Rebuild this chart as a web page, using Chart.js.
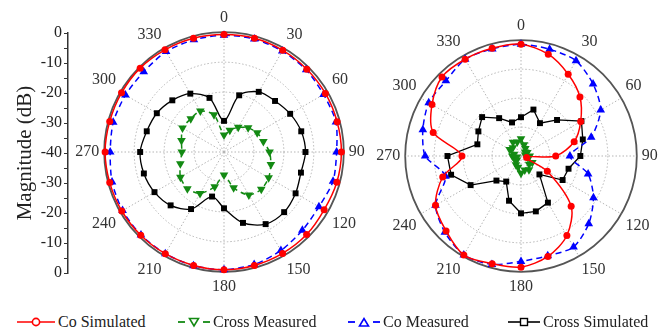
<!DOCTYPE html>
<html>
<head>
<meta charset="utf-8">
<script src="https://cdn.jsdelivr.net/npm/chart.js@4/dist/chart.umd.min.js"></script>
<style>
  html, body { margin: 0; padding: 0; background: #fff; overflow: hidden; }
  #wrap { position: relative; width: 667px; height: 333px; font-family: 'Liberation Serif', 'Times New Roman', serif; }
  canvas { position: absolute; }
  #axis { left: 0; top: 0; }
  #left { left: 49px; top: 8px; }
  #right { left: 346px; top: 16px; }
  .lg { position: absolute; top: 311px; height: 22px; display: flex; align-items: center; font-size: 16px; color: #222; white-space: nowrap; }
  .lg svg { margin-right: 2px; }
</style>
</head>
<body>
<div id="wrap">
  <canvas id="axis" width="80" height="300"></canvas>
  <canvas id="left" width="350" height="289"></canvas>
  <canvas id="right" width="350" height="281"></canvas>

  <div class="lg" style="left:16px">
    <svg width="40" height="12"><line x1="1" y1="6" x2="39" y2="6" stroke="#f00" stroke-width="1.6"/><circle cx="20" cy="6" r="3.6" fill="#fff" stroke="#f00" stroke-width="1.6"/></svg>Co Simulated
  </div>
  <div class="lg" style="left:177px">
    <svg width="34" height="12"><line x1="1" y1="6" x2="8" y2="6" stroke="#138a13" stroke-width="1.8"/><line x1="26" y1="6" x2="33" y2="6" stroke="#138a13" stroke-width="1.8"/><polygon points="12.5,2.5 21.5,2.5 17,10" fill="#fff" stroke="#138a13" stroke-width="1.6"/></svg>Cross Measured
  </div>
  <div class="lg" style="left:347px">
    <svg width="34" height="12"><line x1="1" y1="6" x2="8" y2="6" stroke="#00f" stroke-width="1.8"/><line x1="26" y1="6" x2="33" y2="6" stroke="#00f" stroke-width="1.8"/><polygon points="12.5,10 21.5,10 17,2.5" fill="#fff" stroke="#00f" stroke-width="1.6"/></svg>Co Measured
  </div>
  <div class="lg" style="left:507px">
    <svg width="34" height="12"><line x1="1" y1="6" x2="33" y2="6" stroke="#000" stroke-width="1.6"/><rect x="13.5" y="2.5" width="7" height="7" fill="#fff" stroke="#000" stroke-width="1.4"/></svg>Cross Simulated
  </div>
</div>

<script>
// angles, 15 degree steps, clockwise from top
const angles = ['0','15','30','45','60','75','90','105','120','135','150','165',
                '180','195','210','225','240','255','270','285','300','315','330','345'];

// left pattern (dB)
const leftCoSim = [-0.8, -0.7, -0.8, -0.9, -0.9, -0.9, -0.8, -1.0, -1.4, -1.0, -0.9, -0.8,
                   -0.7, -0.8, -0.8, -0.7, -0.6, -0.5, -0.3, -0.5, -0.5, -0.4, -0.6, -0.7];
const leftCrossMeas = [-34.3, -32.5, -30.5, -28.6, -27.2, -26.4, -24.8, -23.8, -22.8, -22.4, -23.4, -27.6,
                       -32.3, -28, -24, -22.7, -23.2, -24.9, -25.9, -25.3, -24, -24.3, -24.2, -27.1];
const leftCoMeas = [-1.0, -0.9, -1.1, -1.2, -1.6, -1.3, -2.4, -2.3, -3.4, -3.0, -2.0, -1.1,
                    -0.7, -0.7, -0.8, -0.8, -0.9, -1.3, -2.0, -1.7, -2.0, -2.1, -1.3, -1.2];
const leftCrossSim = [-29.6, -20.4, -16.8, -15.9, -14.5, -13.3, -12.8, -13.4, -12.4, -11.6, -12.2, -15.5,
                      -21.2, -24.6, -18, -14.8, -13.2, -12.3, -12, -13.3, -14.1, -15.6, -17.5, -21.3];

// right pattern (dB)
const rightCoSim = [-1.4, -3.6, -7.4, -11.2, -16.2, -21, -28, -38, -29.5, -15.5, -8.3, -4.1,
                    -1.6, -1.5, -0.5, -3.4, -5.9, -12, -19.6, -8.6, -4.5, -1.4, -1.4, -1.5];
const rightCrossMeas = [-34, -36, -37, -38, -37.5, -38.5, -37, -37.5, -35.5, -36, -34.5, -35,
                        -34, -36, -36.5, -38, -37.5, -38.5, -37, -37.5, -35.5, -36, -34.5, -35];
const rightCoMeas = [-1.4, -1.8, -2.0, -4.8, -8.2, -14.9, -23.1, -16, -11.1, -6.9, -3.7, -4.3,
                     -3.6, -1.2, -0.5, -2.8, -5.9, -13, -6.9, -4.9, -3.2, -3.3, -1.4, -1.7];
const rightCrossSim = [-26.6, -23.4, -26.9, -22.4, -15.9, -17.9, -19.5, -23, -23.4, -31, -21.4, -20.2,
                       -20.2, -24, -29.8, -28, -19.9, -15, -14.6, -24.4, -23, -21, -24.9, -28];

// magnitude axis ticks
const magMin = -40, magMax = 40, magStep = 5;

const serif = "'Liberation Serif', 'Times New Roman', serif";
const RED = '#ff0000', GREEN = '#138a13', BLUE = '#0000ff', BLACK = '#000000';

function makeSets(coSim, crossMeas, coMeas, crossSim, smooth) {
    return [
        {
            label: 'Co Simulated', data: coSim,
            borderColor: RED, backgroundColor: RED, borderWidth: 1.5,
            pointStyle: 'circle', pointRadius: 3.5, pointBorderWidth: 0,
            pointBackgroundColor: RED, tension: 0.3, fill: false
        },
        {
            label: 'Cross Measured', data: crossMeas,
            borderColor: GREEN, backgroundColor: GREEN, borderWidth: 1.5, borderDash: [5, 4],
            pointStyle: 'triangle', pointRotation: 180, pointRadius: 5, pointBorderWidth: 0,
            pointBackgroundColor: GREEN, tension: smooth ? 0.25 : 0, fill: false
        },
        {
            label: 'Co Measured', data: coMeas,
            borderColor: BLUE, backgroundColor: BLUE, borderWidth: 1.5, borderDash: [6, 4],
            pointStyle: 'triangle', pointRadius: 5, pointBorderWidth: 0,
            pointBackgroundColor: BLUE, tension: 0.25, fill: false
        },
        {
            label: 'Cross Simulated', data: crossSim,
            borderColor: BLACK, backgroundColor: BLACK, borderWidth: 1.3,
            pointStyle: 'rect', pointRadius: 4.2, pointBorderWidth: 0,
            pointBackgroundColor: BLACK, tension: smooth ? 0.3 : 0, fill: false
        }
    ];
}

function polarOptions() {
    return {
        responsive: false,
        animation: false,
        events: [],
        layout: { padding: 0 },
        plugins: { legend: { display: false }, tooltip: { enabled: false } },
        elements: { line: { borderCapStyle: 'butt' } },
        scales: {
            r: {
                min: -40, max: 0,
                ticks: { display: false, stepSize: 10 },
                grid: {
                    circular: true,
                    color: c => c.tick.value === 0 ? '#555' : '#b5b5b5',
                    lineWidth: c => c.tick.value === 0 ? 1.8 : 1
                },
                border: { dash: c => c.tick.value === 0 ? [] : [1.5, 2] },
                angleLines: {
                    color: c => c.index % 2 ? 'rgba(0,0,0,0)' : '#b5b5b5',
                    lineWidth: c => c.index % 2 ? 0 : 1,
                    borderDash: [1.5, 2]
                },
                pointLabels: {
                    font: { family: serif, size: 16 },
                    color: '#333',
                    padding: 5,
                    callback: (l, i) => i % 2 ? '' : l
                }
            }
        }
    };
}

new Chart(document.getElementById('left'), {
    type: 'radar',
    data: { labels: angles, datasets: makeSets(leftCoSim, leftCrossMeas, leftCoMeas, leftCrossSim, true) },
    options: polarOptions()
});

new Chart(document.getElementById('right'), {
    type: 'radar',
    data: { labels: angles, datasets: makeSets(rightCoSim, rightCrossMeas, rightCoMeas, rightCrossSim, false) },
    options: polarOptions()
});

// Magnitude axis: 0 at top, -40 at centre, 0 at bottom
new Chart(document.getElementById('axis'), {
    type: 'line',
    data: { labels: [], datasets: [] },
    options: {
        responsive: false,
        animation: false,
        events: [],
        layout: { padding: { top: 33, bottom: 27, left: 0, right: 0 } },
        plugins: { legend: { display: false }, tooltip: { enabled: false } },
        scales: {
            x: { display: false },
            y: {
                position: 'left',
                min: magMin, max: magMax,
                afterFit: axis => { axis.width = 68; },
                ticks: {
                    stepSize: magStep, autoSkip: false, padding: 2,
                    color: '#222', font: { family: serif, size: 16 },
                    callback: v => v % 10 === 0 ? String(Math.abs(v) - 40) : ''
                },
                grid: { drawOnChartArea: false, drawTicks: true, tickLength: 4, tickColor: '#333', tickWidth: 1 },
                border: { display: true, color: '#333', width: 1.5 },
                title: {
                    display: true, text: 'Magnitude (dB)', color: '#222',
                    font: { family: serif, size: 21 },
                    padding: { top: 13, bottom: 0 }
                }
            }
        }
    }
});
</script>
</body>
</html>
